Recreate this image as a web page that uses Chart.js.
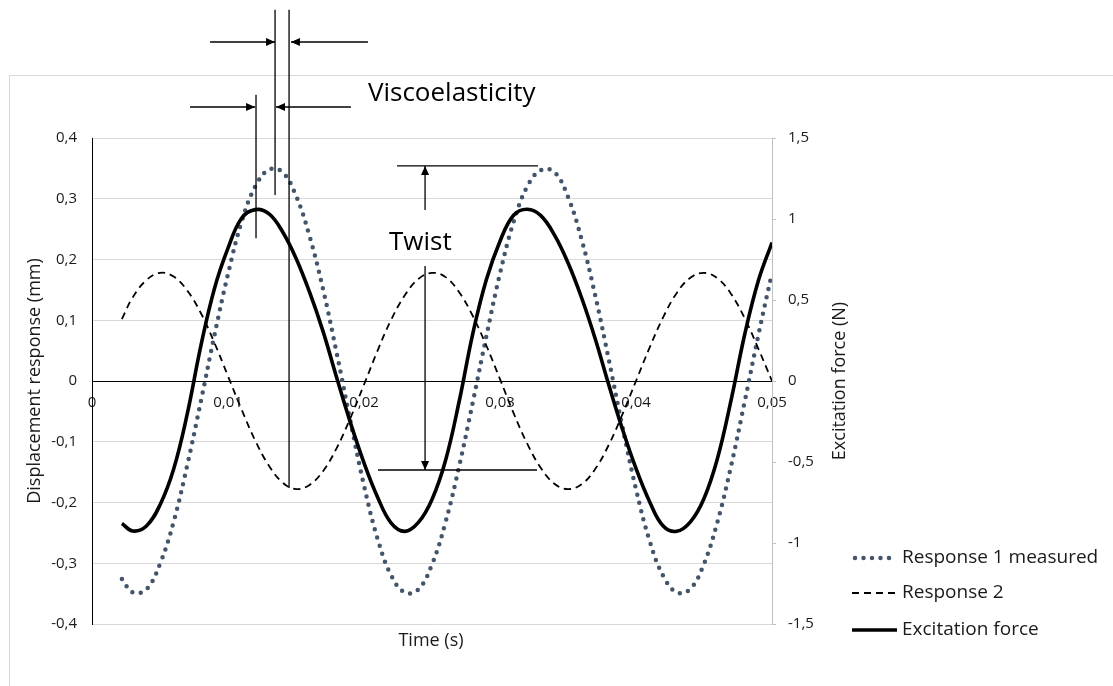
<!DOCTYPE html>
<html>
<head>
<meta charset="utf-8">
<title>Displacement response and excitation force</title>
<script src="https://cdn.jsdelivr.net/npm/chart.js@4.4.1/dist/chart.umd.min.js"></script>
<style>
  html, body { margin: 0; padding: 0; background: #fff; }
  #wrap { width: 1113px; height: 686px; position: relative; }
</style>
</head>
<body>
<div id="wrap"><canvas id="chartResp" width="1113" height="686"></canvas></div>
<script>
// ── Measured series (time in s) ─────────────────────
const timeS = [
  0.0022, 0.003, 0.004, 0.005, 0.006, 0.007, 0.008, 0.009, 0.010, 0.011,
  0.012, 0.013, 0.014, 0.015, 0.016, 0.017, 0.018, 0.019, 0.020, 0.021,
  0.022, 0.023, 0.024, 0.025, 0.026, 0.027, 0.028, 0.029, 0.030, 0.031,
  0.032, 0.033, 0.034, 0.035, 0.036, 0.037, 0.038, 0.039, 0.040, 0.041,
  0.042, 0.043, 0.044, 0.045, 0.046, 0.047, 0.048, 0.049, 0.050
];

// displacement, mm (left axis)
const response1 = [
  -0.326, -0.348, -0.343, -0.301, -0.232, -0.139, -0.034, 0.075, 0.176, 0.262,
  0.320, 0.348, 0.344, 0.305, 0.238, 0.150, 0.045, -0.066, -0.172, -0.260,
  -0.320, -0.348, -0.343, -0.302, -0.232, -0.140, -0.035, 0.074, 0.177, 0.262,
  0.320, 0.347, 0.344, 0.303, 0.233, 0.141, 0.035, -0.075, -0.178, -0.263,
  -0.321, -0.348, -0.342, -0.301, -0.231, -0.139, -0.033, 0.076, 0.178
];

const response2 = [
  0.102, 0.138, 0.166, 0.178, 0.172, 0.149, 0.112, 0.063, 0.008, -0.047,
  -0.098, -0.139, -0.167, -0.178, -0.171, -0.148, -0.110, -0.061, -0.006, 0.050,
  0.101, 0.141, 0.168, 0.178, 0.171, 0.146, 0.107, 0.058, 0.003, -0.053,
  -0.103, -0.143, -0.169, -0.178, -0.170, -0.145, -0.105, -0.055, 0.000, 0.055,
  0.105, 0.145, 0.170, 0.178, 0.169, 0.143, 0.103, 0.053, 0.000
];

// force, N (right axis)
const excitation = [
  -0.880, -0.926, -0.895, -0.765, -0.545, -0.205, 0.215, 0.570, 0.820, 1.005,
  1.058, 1.033, 0.923, 0.758, 0.548, 0.303, 0.018, -0.257, -0.505, -0.717,
  -0.877, -0.928, -0.873, -0.731, -0.489, -0.125, 0.293, 0.626, 0.863, 1.023,
  1.060, 1.021, 0.902, 0.730, 0.514, 0.261, -0.024, -0.296, -0.540, -0.745,
  -0.895, -0.928, -0.870, -0.725, -0.475, -0.115, 0.290, 0.620, 0.855
];

const seriesNames = ['Response 1 measured', 'Response 2', 'Excitation force'];

// ── Axis ticks ───────────────────────────────────────
const timeTicks  = [0, 0.01, 0.02, 0.03, 0.04, 0.05];
const dispTicks  = [-0.4, -0.3, -0.2, -0.1, 0, 0.1, 0.2, 0.3, 0.4];
const forceTicks = [-1.5, -1, -0.5, 0, 0.5, 1, 1.5];

// ── Annotation geometry (time s / displacement mm) ──
const viscoLines = [
  { t: 0.01206, y1: 0.471, y2: 0.235 },
  { t: 0.01346, y1: 0.611, y2: 0.306 },
  { t: 0.01449, y1: 0.611, y2: -0.176 }
];
const viscoArrows = [
  { t1: 0.00868, t2: 0.01346, y: 0.558 },
  { t1: 0.02029, t2: 0.01463, y: 0.558 },
  { t1: 0.00721, t2: 0.01199, y: 0.451 },
  { t1: 0.01904, t2: 0.01353, y: 0.451 }
];
const twistBars   = [
  { t1: 0.02243, t2: 0.03279, y: 0.354 },
  { t1: 0.02103, t2: 0.03272, y: -0.1465 }
];
const twistArrows = [
  { t: 0.02449, y1: 0.2815, y2: 0.354 },
  { t: 0.02449, y1: 0.1893, y2: -0.1465 }
];

const FONT = "'Open Sans', 'Noto Sans', sans-serif";
const fmtComma = v => String(+v.toFixed(2)).replace('.', ',');
const pts = arr => arr.map((v, i) => ({ x: timeS[i], y: v }));
const fixTicks = vals => scale => { scale.ticks = vals.map(v => ({ value: v })); };

function arrowHead(c, x, y, dx, dy) {
  const len = 9, half = 4;
  const n = Math.hypot(dx, dy), ux = dx / n, uy = dy / n;
  c.beginPath();
  c.moveTo(x, y);
  c.lineTo(x - ux * len - uy * half, y - uy * len + ux * half);
  c.lineTo(x - ux * len + uy * half, y - uy * len - ux * half);
  c.closePath();
  c.fill();
}

const decorPlugin = {
  id: 'decor',
  beforeDraw(chart) {
    const c = chart.ctx;
    c.save();
    c.fillStyle = '#fff';
    c.fillRect(0, 0, chart.width, chart.height);
    c.strokeStyle = '#d9d9d9';
    c.lineWidth = 1;
    c.strokeRect(9.5, 75.5, chart.width + 20, chart.height + 20);
    c.restore();
  },
  afterDraw(chart) {
    const { ctx: c, scales: { x, y } } = chart;
    const px = t => x.getPixelForValue(t);
    const py = v => y.getPixelForValue(v);
    c.save();
    c.strokeStyle = '#000';
    c.fillStyle = '#000';
    c.lineWidth = 1.3;

    // Viscoelasticity: peak markers and gap arrows
    viscoLines.forEach(l => {
      c.beginPath(); c.moveTo(px(l.t), py(l.y1)); c.lineTo(px(l.t), py(l.y2)); c.stroke();
    });
    viscoArrows.forEach(a => {
      const x1 = px(a.t1), x2 = px(a.t2), yy = py(a.y);
      c.beginPath(); c.moveTo(x1, yy); c.lineTo(x2, yy); c.stroke();
      arrowHead(c, x2, yy, x2 - x1, 0);
    });

    // Twist: amplitude bars and arrows
    twistBars.forEach(b => {
      c.beginPath(); c.moveTo(px(b.t1), py(b.y)); c.lineTo(px(b.t2), py(b.y)); c.stroke();
    });
    twistArrows.forEach(a => {
      const xx = px(a.t), y1 = py(a.y1), y2 = py(a.y2);
      c.beginPath(); c.moveTo(xx, y1); c.lineTo(xx, y2); c.stroke();
      arrowHead(c, xx, y2, 0, y2 - y1);
    });

    c.font = `26px ${FONT}`;
    c.textAlign = 'left';
    c.textBaseline = 'alphabetic';
    c.fillText('Viscoelasticity', px(0.02029), py(0.461));
    c.fillText('Twist', px(0.02184), py(0.2156));

    // Axis titles
    c.font = `18px ${FONT}`;
    c.fillStyle = '#1a1a1a';
    c.textAlign = 'center';
    c.textBaseline = 'middle';
    c.save(); c.translate(35, 381); c.rotate(-Math.PI / 2);
    c.fillText('Displacement response (mm)', 0, 0); c.restore();
    c.save(); c.translate(840, 381); c.rotate(-Math.PI / 2);
    c.fillText('Excitation force (N)', 0, 0); c.restore();
    c.fillText('Time (s)', 431, 641);

    // Legend
    const rows = [558, 593, 630];
    c.font = `19px ${FONT}`;
    chart.data.datasets.forEach((ds, i) => {
      const yy = rows[i];
      c.save();
      c.strokeStyle = ds.borderColor;
      c.lineWidth = ds.borderWidth;
      c.lineCap = ds.borderCapStyle || 'butt';
      c.setLineDash(ds.borderDash || []);
      c.beginPath(); c.moveTo(i === 0 ? 855 : 852, yy); c.lineTo(897, yy); c.stroke();
      c.restore();
      c.textAlign = 'left';
      c.fillText(ds.label, 902, yy);
    });
    c.restore();
  }
};

new Chart(document.getElementById('chartResp'), {
  type: 'line',
  data: {
    datasets: [
      {
        label: seriesNames[0],
        data: pts(response1),
        yAxisID: 'y',
        borderColor: '#44546a',
        borderWidth: 4.5,
        borderDash: [0, 8.5],
        borderCapStyle: 'round',
        pointRadius: 0,
        fill: false,
        tension: 0.4,
        order: 3
      },
      {
        label: seriesNames[1],
        data: pts(response2),
        yAxisID: 'y',
        borderColor: '#000',
        borderWidth: 1.8,
        borderDash: [7, 5],
        pointRadius: 0,
        fill: false,
        tension: 0.4,
        order: 2
      },
      {
        label: seriesNames[2],
        data: pts(excitation),
        yAxisID: 'y2',
        borderColor: '#000',
        borderWidth: 3.6,
        borderJoinStyle: 'round',
        pointRadius: 0,
        fill: false,
        tension: 0.4,
        order: 1
      }
    ]
  },
  options: {
    responsive: false,
    animation: false,
    devicePixelRatio: 1,
    layout: { padding: { top: 138, bottom: 62, left: 0, right: 241 } },
    plugins: { legend: { display: false }, tooltip: { enabled: false } },
    scales: {
      x: {
        type: 'linear',
        position: { y: 0 },
        min: 0, max: 0.05,
        afterBuildTicks: fixTicks(timeTicks),
        grid: { display: false, drawTicks: false },
        border: { display: true, color: '#000', width: 1 },
        ticks: {
          color: '#1a1a1a', padding: 13, maxRotation: 0, autoSkip: false,
          font: { family: FONT, size: 15 },
          callback: v => fmtComma(v)
        }
      },
      y: {
        position: 'left',
        min: -0.4, max: 0.4,
        afterBuildTicks: fixTicks(dispTicks),
        afterFit: s => { s.width = 92; },
        grid: {
          drawTicks: false,
          color: ctx => (ctx.tick && Math.abs(ctx.tick.value) < 1e-9) ? '#000' : '#d9d9d9'
        },
        border: { color: '#000', width: 1 },
        ticks: {
          color: '#1a1a1a', padding: 15,
          font: { family: FONT, size: 15 },
          callback: v => fmtComma(v)
        }
      },
      y2: {
        position: 'right',
        min: -1.5, max: 1.5,
        afterBuildTicks: fixTicks(forceTicks),
        afterFit: s => { s.width = 100; },
        grid: { drawOnChartArea: false, drawTicks: true, tickLength: 4, color: '#bfbfbf' },
        border: { color: '#bfbfbf', width: 1 },
        ticks: {
          color: '#1a1a1a', padding: 12,
          font: { family: FONT, size: 15 },
          callback: v => fmtComma(v)
        }
      }
    }
  },
  plugins: [decorPlugin]
});
</script>
</body>
</html>
